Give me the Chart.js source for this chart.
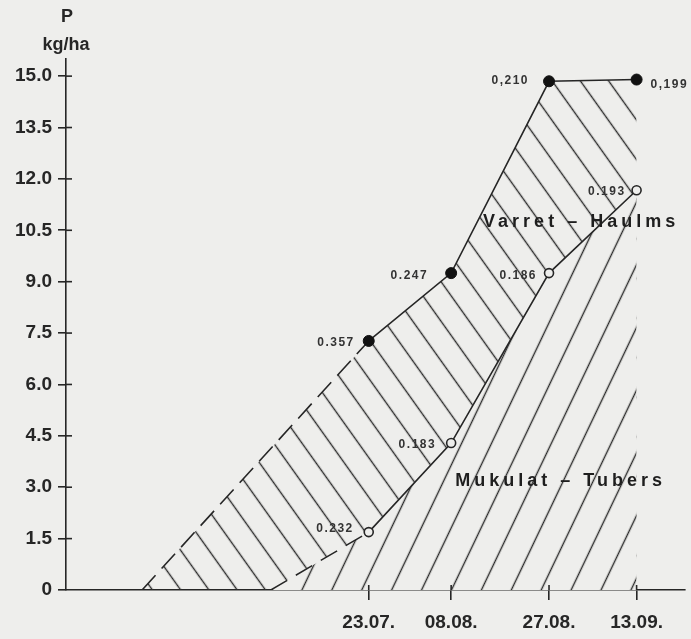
<!DOCTYPE html>
<html><head><meta charset="utf-8">
<script src="https://cdn.jsdelivr.net/npm/chart.js@4.4.0/dist/chart.umd.min.js"></script>
<style>html,body{margin:0;padding:0;background:#eeeeec;} canvas{display:block;}</style>
</head><body>
<canvas id="c" width="691" height="639"></canvas>
<script>
// ---- data ----
const dateLabels = ['23.07.', '08.08.', '27.08.', '13.09.'];
const dateDays = [204, 220, 239, 256];          // day of year
const totalP = [7.27, 9.25, 14.85, 14.9];       // haulms + tubers, kg/ha
const totalConc = ['0.357', '0.247', '0,210', '0,199'];
const tuberP = [1.69, 4.29, 9.25, 11.67];       // tubers, kg/ha
const tuberConc = ['0.232', '0.183', '0.186', '0.193'];
const totalStartDay = 160;   // dashed extrapolation reaches 0
const tuberStartDay = 185;
const yTickValues = [0, 1.5, 3, 4.5, 6, 7.5, 9, 10.5, 12, 13.5, 15];
const regionLabels = ['Varret \u2013 Haulms', 'Mukulat \u2013 Tubers'];
const axisTitle = ['P', 'kg/ha'];

// ---- styles ----
const PAPER = '#eeeeec';
const INK = '#262626';
const FONT = '"Liberation Sans", Arial, sans-serif';
const totalConcStyle = [{dx:-14,dy:2,align:'right'},{dx:-23,dy:3,align:'right'},{dx:-20,dy:-1,align:'right'},{dx:14,dy:5,align:'left'}];
const tuberConcStyle = [{dx:-15,dy:-3,align:'right'},{dx:-15,dy:2,align:'right'},{dx:-12,dy:3,align:'right'},{dx:-11,dy:1,align:'right'}];
const regionLabelPos = [{day:226.2, p:10.6}, {day:220.8, p:3.04}];

const canvas = document.getElementById('c');
const ctx = canvas.getContext('2d');

function hatch(spacing, angleDeg, lw, color, bg) {
  const c = document.createElement('canvas');
  c.width = spacing; c.height = 8;
  const g = c.getContext('2d');
  if (bg) { g.fillStyle = bg; g.fillRect(0, 0, c.width, c.height); }
  g.fillStyle = color;
  g.fillRect(spacing / 2 - lw / 2, 0, lw, 8);
  const p = ctx.createPattern(c, 'repeat');
  p.setTransform(new DOMMatrix().rotateSelf(angleDeg));
  return p;
}
const haulmHatch = hatch(23, -35.5, 1.4, '#2c2c2c', null);
const tuberHatch = hatch(27, 25.5, 1.4, '#2c2c2c', PAPER);

const pts = (days, vals) => days.map((d, i) => ({x: d, y: vals[i]}));

const totalLine = pts(dateDays, totalP);
const tuberLine = pts(dateDays, tuberP);
const totalDash = [{x: totalStartDay, y: 0}, totalLine[0]];
const tuberDash = [{x: tuberStartDay, y: 0}, tuberLine[0]];

const bgPlugin = {
  id: 'bg',
  beforeDraw(chart) {
    const c = chart.ctx; c.save(); c.fillStyle = PAPER;
    c.fillRect(0, 0, chart.width, chart.height); c.restore();
  }
};

const decor = {
  id: 'decor',
  afterDraw(chart) {
    const c = chart.ctx, xs = chart.scales.x, ys = chart.scales.y, a = chart.chartArea;
    c.save();
    // inner halves of tick marks
    c.strokeStyle = INK; c.lineWidth = 1.6;
    ys.ticks.forEach(t => {
      const y = ys.getPixelForValue(t.value);
      if (t.value === 0) return;
      c.beginPath(); c.moveTo(a.left, y); c.lineTo(a.left + 6, y); c.stroke();
    });
    xs.ticks.forEach(t => {
      const x = xs.getPixelForValue(t.value);
      c.beginPath(); c.moveTo(x, a.bottom - 5); c.lineTo(x, a.bottom); c.stroke();
    });
    // axis title
    c.fillStyle = INK; c.textAlign = 'center'; c.textBaseline = 'alphabetic';
    c.font = 'bold 18px ' + FONT;
    c.fillText(axisTitle[0], 67, 22);
    c.fillText(axisTitle[1], 66, 50);
    // concentration labels
    c.font = 'bold 12px ' + FONT; c.letterSpacing = '1.5px'; c.textBaseline = 'middle';
    c.fillStyle = '#333';
    const lab = (vals, texts, st) => vals.forEach((v, i) => {
      const x = xs.getPixelForValue(dateDays[i]), y = ys.getPixelForValue(v);
      c.textAlign = st[i].align;
      c.fillText(texts[i], x + st[i].dx, y + st[i].dy);
    });
    lab(totalP, totalConc, totalConcStyle);
    lab(tuberP, tuberConc, tuberConcStyle);
    // region labels
    c.font = 'bold 18px ' + FONT; c.letterSpacing = '4px'; c.textAlign = 'left';
    c.textBaseline = 'alphabetic'; c.fillStyle = '#1e1e1e';
    regionLabels.forEach((t, i) => {
      c.fillText(t, xs.getPixelForValue(regionLabelPos[i].day), ys.getPixelForValue(regionLabelPos[i].p));
    });
    c.restore();
  }
};

new Chart(canvas, {
  type: 'line',
  data: {
    datasets: [
      { // haulm area (under total curve)
        data: [{x: totalStartDay, y: 0}, ...totalLine],
        fill: 'origin', backgroundColor: haulmHatch, borderWidth: 0, pointRadius: 0, order: 10
      },
      { // tuber area
        data: [{x: tuberStartDay, y: 0}, ...tuberLine],
        fill: 'origin', backgroundColor: tuberHatch, borderWidth: 0, pointRadius: 0, order: 9
      },
      { data: totalDash, borderColor: INK, borderWidth: 1.6, borderDash: [20, 9], pointRadius: 0, fill: false, order: 5 },
      { data: tuberDash, borderColor: INK, borderWidth: 1.5, borderDash: [19, 10], pointRadius: 0, fill: false, order: 4 },
      { data: tuberLine, borderColor: INK, borderWidth: 1.6, fill: false, order: 2,
        pointRadius: 4.5, pointBorderWidth: 1.6, pointBorderColor: INK, pointBackgroundColor: PAPER },
      { data: totalLine, borderColor: INK, borderWidth: 1.6, fill: false, order: 1,
        pointRadius: 5.5, pointBorderWidth: 1, pointBorderColor: '#111', pointBackgroundColor: '#111' }
    ]
  },
  options: {
    responsive: false, animation: false,
    layout: { padding: { top: 59, right: 4, bottom: 0, left: 0 } },
    elements: { line: { tension: 0 } },
    plugins: { legend: { display: false }, tooltip: { enabled: false } },
    scales: {
      x: {
        type: 'linear', min: 145.23, max: 265.3,
        afterBuildTicks: s => { s.ticks = dateDays.map(v => ({value: v})); },
        afterFit: s => { s.height = 49; },
        ticks: { autoSkip: false, maxRotation: 0, padding: 11, color: INK,
          font: { family: FONT, size: 19, weight: 'bold' },
          callback: v => dateLabels[dateDays.indexOf(v)] },
        grid: { drawOnChartArea: false, drawTicks: true, tickLength: 10, color: INK, lineWidth: 1.6 },
        border: { display: true, color: INK, width: 1.6 }
      },
      y: {
        type: 'linear', min: 0, max: 15.5,
        afterBuildTicks: s => { s.ticks = yTickValues.map(v => ({value: v})); },
        afterFit: s => { s.width = 66; },
        ticks: { padding: 6, color: INK, font: { family: FONT, size: 19, weight: 'bold' },
          callback: v => v === 0 ? '0' : v.toFixed(1) },
        grid: { drawOnChartArea: false, drawTicks: true, tickLength: 8, color: INK, lineWidth: 1.6 },
        border: { display: true, color: INK, width: 1.6 }
      }
    }
  },
  plugins: [bgPlugin, decor]
});
</script>
</body></html>
